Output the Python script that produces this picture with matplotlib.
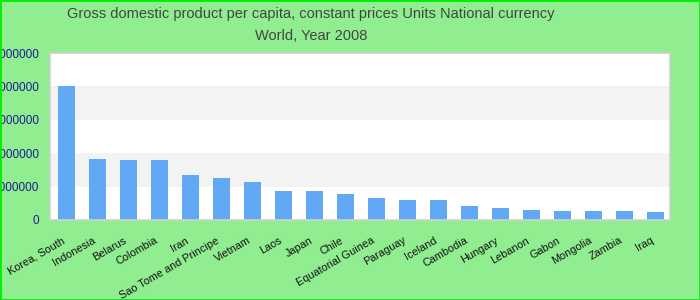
import matplotlib
matplotlib.use("Agg")
import matplotlib.pyplot as plt
from matplotlib.transforms import ScaledTranslation

countries = ["Korea, South", "Indonesia", "Belarus", "Colombia", "Iran",
             "Sao Tome and Principe", "Vietnam", "Laos", "Japan", "Chile",
             "Equatorial Guinea", "Paraguay", "Iceland", "Cambodia", "Hungary",
             "Lebanon", "Gabon", "Mongolia", "Zambia", "Iraq"]
gdp = [20100000, 9150000, 9000000, 9000000, 6750000,
       6300000, 5700000, 4350000, 4350000, 3900000,
       3300000, 3000000, 3000000, 2100000, 1800000,
       1500000, 1350000, 1350000, 1350000, 1200000]
yticks = [0, 5000000, 10000000, 15000000, 20000000, 25000000]
ytick_labels = ["0", "5000000", "10000000", "15000000", "20000000", "25000000"]
title1 = "Gross domestic product per capita, constant prices Units National currency"
title2 = "World, Year 2008"

plt.rcParams['font.family'] = ['Liberation Sans', 'DejaVu Sans']

fig = plt.figure(figsize=(7, 3), dpi=100, facecolor='#90ee90')
ax = fig.add_axes([50/700, 80/300, 620/700, 167/300])
ax.set_facecolor('white')

# alternating bands
ax.axhspan(yticks[1], yticks[2], color='#f3f3f3', zorder=0, lw=0)
ax.axhspan(yticks[3], yticks[4], color='#f3f3f3', zorder=0, lw=0)

x = list(range(len(countries)))
ax.bar(x, gdp, width=0.55, color='#62a9f5', zorder=2)

ax.set_xlim(-0.53, len(countries) - 0.53)
ax.set_ylim(0, 25000000)
ax.set_yticks(yticks)
ax.set_yticklabels(ytick_labels, color='#1c1c8c', fontsize=8.5)
ax.set_xticks(x)
ax.set_xticklabels(countries, rotation=30, ha='right', va='top',
                   rotation_mode='anchor', fontsize=7.8, color='#111111')
ax.tick_params(axis='both', length=0)
ax.tick_params(axis='x', pad=11)
ax.tick_params(axis='y', pad=8)
off = ScaledTranslation(-5/100, 0, fig.dpi_scale_trans)
for lbl in ax.get_xticklabels():
    lbl.set_transform(lbl.get_transform() + off)

for s in ax.spines.values():
    s.set_color('#d0d0d0')
    s.set_linewidth(1.2)

fig.text(311/700, 1 - 14/300, title1, ha='center', va='center', fontsize=10.5, color='#444444')
fig.text(311/700, 1 - 36/300, title2, ha='center', va='center', fontsize=10.5, color='#444444')

# figure border
fig.patches.append(plt.Rectangle((0, 0), 1, 1, transform=fig.transFigure,
                                 fill=False, edgecolor='#00ee00', linewidth=2))

fig.savefig('out.png', dpi=100, facecolor=fig.get_facecolor())
